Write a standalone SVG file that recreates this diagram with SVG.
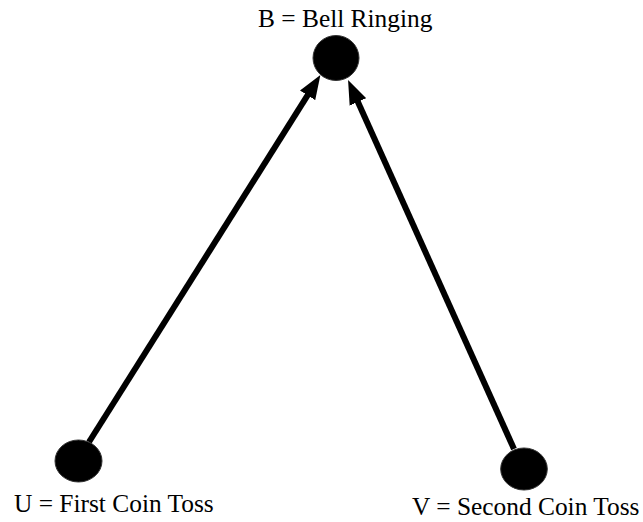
<svg xmlns="http://www.w3.org/2000/svg" width="643" height="522" viewBox="0 0 643 522">
<style>
.node{fill:#000;stroke:#333;stroke-width:1}
.lbl{font-family:"Liberation Serif","Times New Roman",serif;font-size:25.4px;fill:#000}
.edge{stroke:#000;stroke-width:6;fill:none}
</style>
<defs>
<marker id="ah" markerUnits="userSpaceOnUse" markerWidth="25" markerHeight="19" refX="12" refY="9" orient="auto" viewBox="0 0 25 18">
<path d="M0,0 L24,9 L0,18 z" fill="#000"/>
</marker>
</defs>
<rect width="643" height="522" fill="#fff"/>
<g id="connectors">
<line class="edge" x1="89" y1="442" x2="314" y2="85.2" marker-end="url(#ah)"/>
<line class="edge" x1="514" y1="449" x2="353" y2="91" marker-end="url(#ah)"/>
</g>
<g id="B">
<ellipse class="node" cx="336" cy="58" rx="23" ry="22.5"/>
<text class="lbl" x="258" y="27">B = Bell Ringing</text>
</g>
<g id="U">
<ellipse class="node" cx="78.5" cy="461" rx="23.5" ry="21"/>
<text class="lbl" x="14" y="512">U = First Coin Toss</text>
</g>
<g id="V">
<ellipse class="node" cx="524" cy="469" rx="23.3" ry="21"/>
<text class="lbl" x="412" y="515">V = Second Coin Toss</text>
</g>
</svg>
